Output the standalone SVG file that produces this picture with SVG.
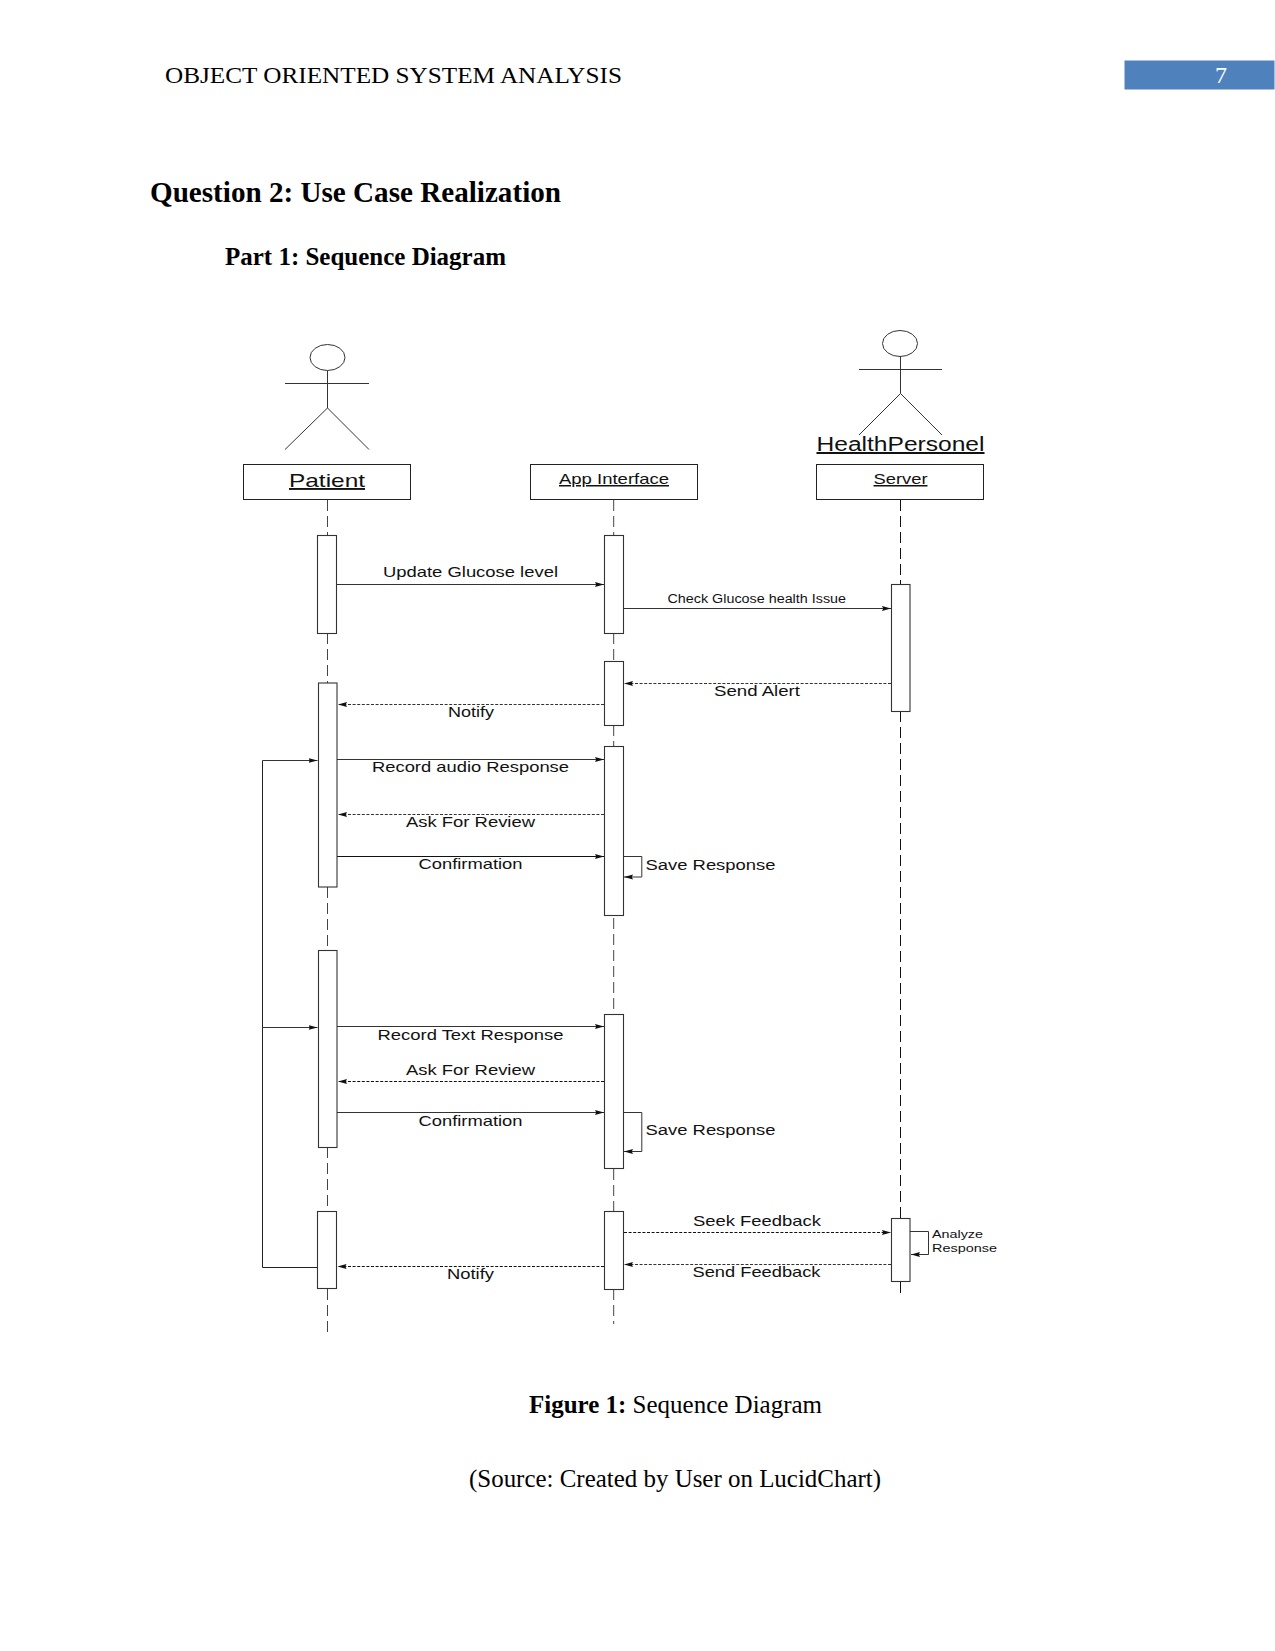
<svg xmlns="http://www.w3.org/2000/svg" width="1275" height="1651" viewBox="0 0 1275 1651">
<style>
  .page { font-family: "Liberation Serif", "Times New Roman", serif; fill: #000; }
  .lbl { font-family: "Liberation Sans", Arial, sans-serif; fill: #111; }
  .box { fill: #fff; stroke: #222; stroke-width: 1; }
  .act { fill: #fff; stroke: #333; stroke-width: 1.1; }
  .stick { fill: none; stroke: #333; stroke-width: 1; }
  .life { fill: none; stroke: #444; stroke-width: 1; stroke-dasharray: 11 5; }
  .msg { fill: none; stroke: #333; stroke-width: 1; marker-end: url(#head); }
  .back { fill: none; stroke: #333; stroke-width: 1; stroke-dasharray: 3 1.6; marker-end: url(#head); }
  .u { text-decoration: underline; }
</style>
<defs>
  <marker id="head" markerUnits="userSpaceOnUse" markerWidth="10" markerHeight="7" refX="9" refY="3.5" orient="auto">
    <path d="M0,1 L9,3.5 L0,6 L1.2,3.5 Z" fill="#111"/>
  </marker>
</defs>
<rect width="1275" height="1651" fill="#fff"/>

<!-- running header -->
<g id="page-header">
  <text class="page" x="165" y="83" font-size="24" textLength="457" lengthAdjust="spacingAndGlyphs">OBJECT ORIENTED SYSTEM ANALYSIS</text>
  <rect x="1124.5" y="60.5" width="150" height="29" fill="#4f81bd"/>
  <text x="1221" y="83" font-size="24" text-anchor="middle" font-family="'Liberation Serif', serif" fill="#fff">7</text>
</g>

<!-- headings -->
<g id="headings">
  <text class="page" x="150" y="202" font-size="29.5" font-weight="bold" textLength="411" lengthAdjust="spacingAndGlyphs">Question 2: Use Case Realization</text>
  <text class="page" x="225" y="265" font-size="24.5" font-weight="bold" textLength="281" lengthAdjust="spacingAndGlyphs">Part 1: Sequence Diagram</text>
</g>

<!-- lifelines and messages -->
<g id="connectors">
  <path class="life" d="M327.5,500V535M327.5,633V683M327.5,887V950M327.5,1147V1211M327.5,1289V1332"/>
  <path class="life" d="M613.7,500V535M613.7,633V661M613.7,725V746M613.7,918V1014M613.7,1169V1211M613.7,1289V1324"/>
  <path class="life" style="stroke:#111" d="M900.5,500V584M900.5,711V1218M900.5,1282V1296"/>

  <path class="msg" d="M336.7,584.5H604"/>
  <path class="msg" d="M623.3,608.5H891"/>
  <path class="back" d="M891,683.5H624"/>
  <path class="back" d="M604,704.5H338"/>
  <path class="msg" d="M337,759.5H604"/>
  <path class="back" d="M604,814.5H338"/>
  <path class="msg" style="stroke:#111" d="M337,856.5H604"/>
  <path class="msg" d="M623.3,856.5H641.8V877H624"/>
  <path class="msg" d="M337,1026.5H604"/>
  <path class="back" style="stroke:#111" d="M604,1081.5H338"/>
  <path class="msg" d="M337,1112.5H604"/>
  <path class="msg" d="M623.3,1112.5H641.8V1151.5H624"/>
  <path class="back" style="stroke:#111" d="M624,1232.5H891"/>
  <path class="back" d="M891,1264.5H624"/>
  <path class="back" style="stroke:#111" d="M604,1266.5H337.5"/>
  <path class="msg" d="M910,1231.5H928.5V1254.5H911"/>
  <path class="stick" style="stroke:#222" d="M317,1267.5H262.5V760.5"/>
  <path class="msg" d="M262.5,760.5H317.5"/>
  <path class="msg" d="M262.5,1027.5H317.5"/>
</g>

<!-- patient -->
<g id="actor-patient">
  <ellipse class="stick" cx="327.5" cy="357.5" rx="17.5" ry="13"/>
  <path class="stick" d="M285,383.5H369M327.5,370.5V408M285,449.5L327.5,408L369,449.5"/>
</g>
<g id="node-patient">
  <rect class="box" x="243.5" y="464.5" width="167" height="35"/>
  <text class="lbl u" x="327" y="487" font-size="19" text-anchor="middle" textLength="76" lengthAdjust="spacingAndGlyphs">Patient</text>
</g>

<!-- application interface -->
<g id="node-app-interface">
  <rect class="box" x="530.5" y="464.5" width="167" height="35"/>
  <text class="lbl u" x="614" y="484" font-size="15" text-anchor="middle" textLength="110" lengthAdjust="spacingAndGlyphs">App Interface</text>
</g>

<!-- health personnel and server -->
<g id="actor-health-personel">
  <ellipse class="stick" cx="900" cy="343.5" rx="17.5" ry="13"/>
  <path class="stick" d="M859,369.5H942M900.5,356.5V393.5M859,435L900.5,393.5L942,435"/>
  <text class="lbl u" x="900.5" y="451" font-size="20" text-anchor="middle" textLength="168" lengthAdjust="spacingAndGlyphs">HealthPersonel</text>
</g>
<g id="node-server">
  <rect class="box" x="816.5" y="464.5" width="167" height="35"/>
  <text class="lbl u" x="900.5" y="484" font-size="15" text-anchor="middle" textLength="54" lengthAdjust="spacingAndGlyphs">Server</text>
</g>

<!-- activation bars -->
<g id="activation-patient-1"><rect class="act" x="317.5" y="535.5" width="19" height="98"/></g>
<g id="activation-patient-2"><rect class="act" x="318.5" y="683" width="18.5" height="204"/></g>
<g id="activation-patient-3"><rect class="act" x="318.5" y="950.5" width="18.5" height="197"/></g>
<g id="activation-patient-4"><rect class="act" x="317.5" y="1211.5" width="19" height="77"/></g>
<g id="activation-app-1"><rect class="act" x="604.5" y="535.5" width="19" height="98"/></g>
<g id="activation-app-2"><rect class="act" x="604.5" y="661.5" width="19" height="64"/></g>
<g id="activation-app-3"><rect class="act" x="604.5" y="746.5" width="19" height="169"/></g>
<g id="activation-app-4"><rect class="act" x="604.5" y="1014.5" width="19" height="154"/></g>
<g id="activation-app-5"><rect class="act" x="604.5" y="1211.5" width="19" height="78"/></g>
<g id="activation-server-1"><rect class="act" x="891.5" y="584.5" width="18.5" height="127"/></g>
<g id="activation-server-2"><rect class="act" x="891.5" y="1218.5" width="18.5" height="63"/></g>

<!-- message labels -->
<g id="labels">
  <text class="lbl" x="383" y="577" font-size="15" textLength="175" lengthAdjust="spacingAndGlyphs">Update Glucose level</text>
  <text class="lbl" x="667.5" y="602.5" font-size="12" textLength="178.5" lengthAdjust="spacingAndGlyphs">Check Glucose health Issue</text>
  <text class="lbl" x="714" y="696" font-size="15" textLength="86" lengthAdjust="spacingAndGlyphs">Send Alert</text>
  <text class="lbl" x="448" y="716.5" font-size="15" textLength="46" lengthAdjust="spacingAndGlyphs">Notify</text>
  <text class="lbl" x="372" y="771.5" font-size="15" textLength="197" lengthAdjust="spacingAndGlyphs">Record audio Response</text>
  <text class="lbl" x="406" y="826.5" font-size="15" textLength="129" lengthAdjust="spacingAndGlyphs">Ask For Review</text>
  <text class="lbl" x="418.5" y="869" font-size="15" textLength="104" lengthAdjust="spacingAndGlyphs">Confirmation</text>
  <text class="lbl" x="645.5" y="869.5" font-size="15.5" textLength="130" lengthAdjust="spacingAndGlyphs">Save Response</text>
  <text class="lbl" x="377.5" y="1039.5" font-size="15" textLength="186" lengthAdjust="spacingAndGlyphs">Record Text Response</text>
  <text class="lbl" x="406" y="1075" font-size="15" textLength="129" lengthAdjust="spacingAndGlyphs">Ask For Review</text>
  <text class="lbl" x="418.5" y="1125.5" font-size="15" textLength="104" lengthAdjust="spacingAndGlyphs">Confirmation</text>
  <text class="lbl" x="645.5" y="1134.5" font-size="15.5" textLength="130" lengthAdjust="spacingAndGlyphs">Save Response</text>
  <text class="lbl" x="693" y="1226" font-size="14.5" textLength="128" lengthAdjust="spacingAndGlyphs">Seek Feedback</text>
  <text class="lbl" x="692.5" y="1276.5" font-size="14.5" textLength="128" lengthAdjust="spacingAndGlyphs">Send Feedback</text>
  <text class="lbl" x="447" y="1278.5" font-size="15" textLength="47" lengthAdjust="spacingAndGlyphs">Notify</text>
  <text class="lbl" x="932" y="1237.5" font-size="11.5" textLength="51" lengthAdjust="spacingAndGlyphs">Analyze</text>
  <text class="lbl" x="932" y="1252" font-size="11.5" textLength="65" lengthAdjust="spacingAndGlyphs">Response</text>
</g>

<!-- figure caption -->
<g id="caption">
  <text class="page" x="529" y="1413" font-size="24.5" textLength="293" lengthAdjust="spacingAndGlyphs"><tspan font-weight="bold">Figure 1:</tspan> Sequence Diagram</text>
  <text class="page" x="469" y="1487" font-size="24.5" textLength="412" lengthAdjust="spacingAndGlyphs">(Source: Created by User on LucidChart)</text>
</g>
</svg>
